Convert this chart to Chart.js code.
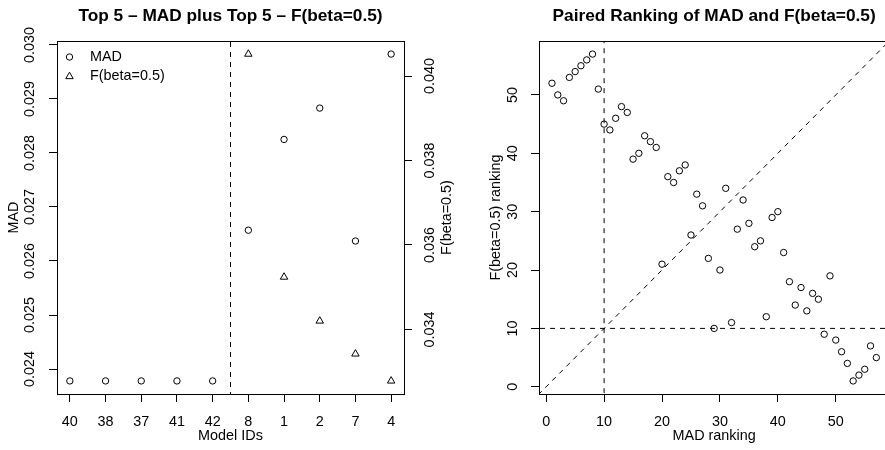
<!DOCTYPE html>
<html><head><meta charset="utf-8">
<script src="https://cdn.jsdelivr.net/npm/chart.js@4.4.1/dist/chart.umd.min.js"></script>
<style>
html,body{margin:0;padding:0;background:#fff;overflow:hidden;width:885px;height:450px;}
#wrap{position:relative;width:885px;height:450px;overflow:hidden;background:#fff;}
canvas{position:absolute;top:0;}
#c1{left:0;} #c2{left:440px;}
</style></head><body>
<div id="wrap"><canvas id="c1" width="460" height="450"></canvas><canvas id="c2" width="460" height="450"></canvas></div>
<script>
// ---- data: left panel ----
const modelIds  = ['40','38','37','41','42','8','1','2','7','4'];
const madValues = [0.02378,0.02378,0.02378,0.02378,0.02378,0.02657,0.02825,0.02883,0.02637,0.02983];
const fValues   = [null,null,null,null,null,0.04052,0.03524,0.03420,0.03342,0.03278];
const madTicks  = [0.024,0.025,0.026,0.027,0.028,0.029,0.030];
const fTicks    = [0.034,0.036,0.038,0.040];
const splitAt   = 5.5;

// ---- data: right panel ----
const madRank = [1,2,3,4,5,6,7,8,9,10,11,12,13,14,15,16,17,18,19,20,21,22,23,24,25,26,27,28,29,30,
                 31,32,33,34,35,36,37,38,39,40,41,42,43,44,45,46,47,48,49,50,51,52,53,54,55,56,57];
const fRank   = [52,50,49,53,54,55,56,57,51,45,44,46,48,47,39,40,43,42,41,21,36,35,37,38,26,33,31,22,10,20,
                 34,11,27,32,28,24,25,12,29,30,23,18,14,17,13,16,15,9,19,8,6,4,1,2,3,7,5];
const rankTicks = [0,10,20,30,40,50];
const cutoff = 10;

// ---- helpers ----
function rRange(arr){
  const v = arr.filter(x => x != null);
  const lo = Math.min(...v), hi = Math.max(...v), d = (hi - lo) * 0.04;
  return [lo - d, hi + d];
}
const fixedTicks = vals => s => { s.ticks = vals.map(v => ({value: v})); };

const FONT = "'Liberation Sans', Arial, Helvetica, sans-serif";
Chart.defaults.font.family = FONT;
Chart.defaults.font.size = 14.4;
Chart.defaults.color = '#000';
Chart.defaults.animation = false;

const tickGrid = {display: true, drawOnChartArea: false, drawTicks: true, tickLength: 8, color: '#000', lineWidth: 1};
const titleOpts = txt => ({display: true, text: txt, color: '#000', fullSize: false,
  font: {size: 17.3, weight: 'bold', lineHeight: 1.2}, padding: {top: 6, bottom: 14.24}});

const boxPlugin = {id: 'rbox', afterDraw(chart){
  const {ctx, chartArea: a} = chart;
  ctx.save(); ctx.strokeStyle = '#000'; ctx.lineWidth = 1;
  const l = Math.round(a.left), t = Math.round(a.top), r = Math.round(a.right), b = Math.round(a.bottom);
  ctx.strokeRect(l + 0.5, t + 0.5, r - l, b - t);
  ctx.restore();
}};

const ptStyle = {borderColor: '#000', backgroundColor: 'rgba(0,0,0,0)', borderWidth: 1};

// ---- left chart ----
const xr1 = rRange(modelIds.map((_, i) => i + 1));
const yr1 = rRange(madValues);
const yr2 = rRange(fValues);

const legendPlugin = {id: 'rlegend', afterDraw(chart){
  const {ctx, chartArea: a} = chart;
  ctx.save();
  ctx.strokeStyle = '#000'; ctx.lineWidth = 1; ctx.fillStyle = '#000';
  const sx = a.left + 12.5, y1 = a.top + 16, y2 = a.top + 35.5, tx = a.left + 33;
  ctx.beginPath(); ctx.arc(sx, y1, 3.2, 0, Math.PI * 2); ctx.stroke();
  const r = 4.3;
  ctx.beginPath(); ctx.moveTo(sx, y2 - r); ctx.lineTo(sx + 0.866 * r, y2 + 0.5 * r); ctx.lineTo(sx - 0.866 * r, y2 + 0.5 * r); ctx.closePath(); ctx.stroke();
  ctx.font = '14.4px ' + FONT; ctx.textBaseline = 'middle'; ctx.textAlign = 'left';
  ctx.fillText('MAD', tx, y1);
  ctx.fillText('F(beta=0.5)', tx, y2);
  // right-hand axis title, reading bottom to top
  ctx.translate(a.right + 43, (a.top + a.bottom) / 2);
  ctx.rotate(-Math.PI / 2);
  ctx.textAlign = 'center';
  ctx.fillText('F(beta=0.5)', 0, 0);
  ctx.restore();
}};

new Chart(document.getElementById('c1'), {
  type: 'scatter',
  data: {datasets: [
    {label: 'MAD', data: madValues.map((v, i) => ({x: i + 1, y: v})), yAxisID: 'y', pointStyle: 'circle', pointRadius: 3.2, ...ptStyle},
    {label: 'F(beta=0.5)', data: fValues.map((v, i) => ({x: i + 1, y: v})).filter(p => p.y != null), yAxisID: 'y2', pointStyle: 'triangle', pointRadius: 4.3, ...ptStyle},
    {label: 'split', data: [{x: splitAt, y: yr1[0] - 1}, {x: splitAt, y: yr1[1] + 1}], yAxisID: 'y', showLine: true, pointRadius: 0, borderColor: '#000', borderWidth: 1, borderDash: [5, 5]}
  ]},
  options: {
    responsive: false, devicePixelRatio: 1, animation: false,
    layout: {padding: 0},
    plugins: {legend: {display: false}, tooltip: {enabled: false}, title: titleOpts('Top 5 \u2013 MAD plus Top 5 \u2013 F(beta=0.5)')},
    scales: {
      x: {type: 'linear', position: 'bottom', min: xr1[0], max: xr1[1],
        afterBuildTicks: fixedTicks(modelIds.map((_, i) => i + 1)),
        ticks: {autoSkip: false, maxRotation: 0, minRotation: 0, padding: 11, callback: v => modelIds[Math.round(v) - 1] ?? ''},
        grid: tickGrid, border: {display: false},
        title: {display: true, text: 'Model IDs', padding: {top: 0, bottom: 5}},
        afterFit: s => { s.height = 56; }},
      y: {type: 'linear', position: 'left', min: yr1[0], max: yr1[1],
        afterBuildTicks: fixedTicks(madTicks),
        ticks: {autoSkip: false, minRotation: 90, maxRotation: 90, crossAlign: 'center', padding: 0.5, callback: v => v.toFixed(3)},
        grid: tickGrid, border: {display: false},
        title: {display: true, text: 'MAD', padding: {top: 5.4, bottom: 0}},
        afterFit: s => { s.width = 57; }},
      y2: {type: 'linear', position: 'right', min: yr2[0], max: yr2[1],
        afterBuildTicks: fixedTicks(fTicks),
        ticks: {autoSkip: false, minRotation: 90, maxRotation: 90, crossAlign: 'center', padding: 0, callback: v => v.toFixed(3)},
        grid: tickGrid, border: {display: false},
        afterFit: s => { s.width = 56; }}
    }
  },
  plugins: [boxPlugin, legendPlugin]
});

// ---- right chart ----
const rr = rRange(madRank.concat(fRank));
new Chart(document.getElementById('c2'), {
  type: 'scatter',
  data: {datasets: [
    {label: 'ranks', data: madRank.map((m, i) => ({x: m, y: fRank[i]})), pointStyle: 'circle', pointRadius: 3.2, ...ptStyle},
    {label: 'vcut', data: [{x: cutoff, y: rr[0] - 5}, {x: cutoff, y: rr[1] + 5}], showLine: true, pointRadius: 0, borderColor: '#000', borderWidth: 1, borderDash: [5, 5]},
    {label: 'hcut', data: [{x: rr[0] - 5, y: cutoff}, {x: rr[1] + 5, y: cutoff}], showLine: true, pointRadius: 0, borderColor: '#000', borderWidth: 1, borderDash: [5, 5]},
    {label: 'diag', data: [{x: rr[0] - 5, y: rr[0] - 5}, {x: rr[1] + 5, y: rr[1] + 5}], showLine: true, pointRadius: 0, borderColor: '#000', borderWidth: 1, borderDash: [5, 5]}
  ]},
  options: {
    responsive: false, devicePixelRatio: 1, animation: false,
    layout: {padding: {left: 0, top: 0, bottom: 0, right: 10.7}},
    plugins: {legend: {display: false}, tooltip: {enabled: false}, title: titleOpts('Paired Ranking of MAD and F(beta=0.5)')},
    scales: {
      x: {type: 'linear', position: 'bottom', min: rr[0], max: rr[1],
        afterBuildTicks: fixedTicks(rankTicks),
        ticks: {autoSkip: false, maxRotation: 0, minRotation: 0, padding: 11},
        grid: tickGrid, border: {display: false},
        title: {display: true, text: 'MAD ranking', padding: {top: 0, bottom: 5}},
        afterFit: s => { s.height = 56; }},
      y: {type: 'linear', position: 'left', min: rr[0], max: rr[1],
        afterBuildTicks: fixedTicks(rankTicks),
        ticks: {autoSkip: false, minRotation: 90, maxRotation: 90, crossAlign: 'center', padding: 10},
        grid: tickGrid, border: {display: false},
        title: {display: true, text: 'F(beta=0.5) ranking', padding: {top: 47.4, bottom: 0}},
        afterFit: s => { s.width = 99; }}
    }
  },
  plugins: [boxPlugin]
});
</script>
</body></html>
